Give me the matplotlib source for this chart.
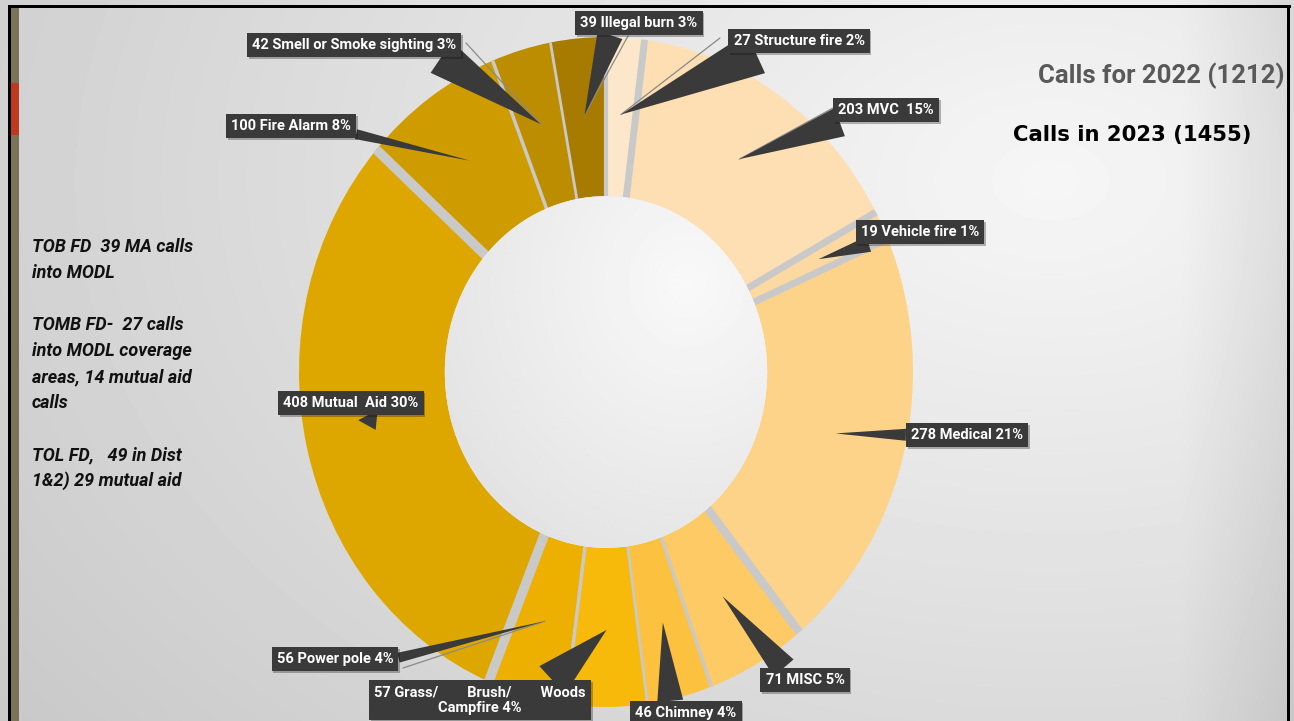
import numpy as np
import matplotlib.pyplot as plt
from matplotlib.patches import Rectangle, Circle
import matplotlib.patheffects as pe

W, H = 1294, 721

# ── data (clockwise from 12 o'clock) ───────────────────────────────
categories = ["Structure fire", "MVC ", "Vehicle fire", "Medical", "MISC", "Chimney",
              "Grass/        Brush/        Woods\nCampfire", "Power pole", "Mutual  Aid",
              "Fire Alarm", "Smell or Smoke sighting", "Illegal burn"]
calls = [27, 203, 19, 278, 71, 46, 57, 56, 408, 100, 42, 39]
pct_shown = [2, 15, 1, 21, 5, 4, 4, 4, 30, 8, 3, 3]
colors = ["#fde7cb", "#fddfb3", "#fdd9a2", "#fdd38a", "#fdca66", "#fcc13e",
          "#f7ba0a", "#edb000", "#dea700", "#cf9c00", "#bd8d00", "#a77a00"]

title_2022 = "Calls for 2022 (1212)"
title_2023 = "Calls in 2023 (1455)"
side_notes = ["TOB FD  39 MA calls", "into MODL", "",
              "TOMB FD-  27 calls", "into MODL coverage", "areas, 14 mutual aid", "calls", "",
              "TOL FD,   49 in Dist", "1&2) 29 mutual aid"]

# ── layout: label box centres (px from top-left), arrow anchor, wedge width ──
label_px = [(799, 41), (886, 110), (920, 232), (967, 435), (805, 680), (686, 713),
            (480, 700), (335, 659), (351, 403), (291, 126), (354, 45), (639, 23)]
relpos = [(0.28, 0.1), (0.2, 0.1), (0.25, 0.1), (0.05, 0.5), (0.3, 0.9), (0.35, 0.9),
          (0.8, 0.9), (0.95, 0.4), (0.6, 0.1), (0.9, 0.2), (0.88, 0.1), (0.27, 0.1)]
tail_px = [44, 30, 16, 12, 26, 26, 38, 10, 22, 10, 38, 26]
gap_lw = [3, 5, 5, 5, 6, 2.5, 2, 2.5, 7, 7, 2.5, 2]   # gap before each slice
leader_from = {0: (720, 38), 1: (833, 108), 7: (403, 668), 10: (466, 43), 11: (628, 36)}

LABEL_FONT = ["Roboto", "DejaVu Sans"]


def fpx(x, y):
    return x / W, 1 - y / H


fig = plt.figure(figsize=(W / 100, H / 100), dpi=100)

# background gradient
bg_ax = fig.add_axes([0, 0, 1, 1], zorder=-5)
yy, xx = np.mgrid[0:H, 0:W]
d = np.sqrt(((xx - 1050) / 1100.0) ** 2 + ((yy - 180) / 750.0) ** 2)
bg = 0.965 - 0.15 * d - 0.07 * np.clip((xx - 1180) / 110.0, 0, 1)
bg_ax.imshow(bg, cmap="gray", vmin=0, vmax=1, extent=[0, W, H, 0], aspect="auto")
bg_ax.set_xlim(0, W)
bg_ax.set_ylim(H, 0)
bg_ax.axis("off")

# frame decorations
for (x0, y0, x1, y1, c) in [(8, 5, 1291, 8, "black"), (8, 5, 11, H, "black"),
                            (11, 8, 19, H, "#7b7358"), (11, 83, 19, 135, "#c0391f"),
                            (1287, 5, 1290, H, "black")]:
    fig.add_artist(Rectangle(fpx(x0, y1), (x1 - x0) / W, (y1 - y0) / H,
                             transform=fig.transFigure, fc=c, ec="none", zorder=10))

# donut
ax = fig.add_axes([299 / W, (H - 372 - 335) / H, 614 / W, 670 / H])
ax.patch.set_alpha(0)
wedges, _ = ax.pie(calls, colors=colors, startangle=90, counterclock=False, radius=1,
                   wedgeprops=dict(width=0.48, edgecolor="none"))
ax.set_aspect("auto")

# grey gaps between slices
for i, w in enumerate(wedges):
    a = np.deg2rad(w.theta2)  # start edge (clockwise order)
    ax.plot([0.5 * np.cos(a), 1.0 * np.cos(a)], [0.5 * np.sin(a), 1.0 * np.sin(a)],
            color="#c9c9c9", lw=gap_lw[i], solid_capstyle="butt", zorder=2)

# centre hole with soft shading
hole = Circle((0, 0), 0.525, transform=ax.transData, fc="#f0f0f0", ec="none", zorder=3)
ax.add_patch(hole)
gy, gx = np.mgrid[-1:1:200j, -1:1:200j]
shade = 0.975 - 0.05 * np.clip(np.sqrt((gx - 0.5) ** 2 + (gy - 0.5) ** 2), 0, 2)
im = ax.imshow(shade, cmap="gray", vmin=0, vmax=1, extent=[-0.53, 0.53, -0.53, 0.53],
               origin="lower", zorder=4, aspect="auto")
im.set_clip_path(hole)
ax.set_xlim(-1, 1)
ax.set_ylim(-1, 1)
ax.axis("off")

# callouts
for i, w in enumerate(wedges):
    mid = np.deg2rad((w.theta1 + w.theta2) / 2)
    tip = (0.77 * np.cos(mid), 0.77 * np.sin(mid))
    text = f"{calls[i]} {categories[i]} {pct_shown[i]}%"
    lx, ly = label_px[i]
    if i in leader_from:
        sx, sy = leader_from[i]
        ax.annotate("", xy=tip, xytext=(sx, H - sy), textcoords="figure pixels",
                    annotation_clip=False, zorder=6,
                    arrowprops=dict(arrowstyle="-", color="#8a8a8a", lw=0.9,
                                    shrinkA=0, shrinkB=0))
    ann = ax.annotate(
        text, xy=tip, xytext=(lx, H - ly), textcoords="figure pixels",
        ha="center", va="center", ma="center", color="white", fontsize=10.5,
        fontweight="bold", family=LABEL_FONT, annotation_clip=False,
        zorder=7, linespacing=1.15,
        bbox=dict(boxstyle="square,pad=0.35", fc="#3a3a3a", ec="none"),
        arrowprops=dict(arrowstyle=f"wedge,tail_width={tail_px[i] / 13.9:.2f},shrink_factor=0.5",
                        fc="#3a3a3a", ec="none", mutation_scale=10,
                        relpos=relpos[i], shrinkA=0, shrinkB=0))
    ann.get_bbox_patch().set_path_effects([pe.SimplePatchShadow(offset=(1.2, -1.2), alpha=0.3),
                                           pe.Normal()])
    ann.arrow_patch.set_zorder(6)

# titles at right
fig.text(*fpx(1285, 76), title_2022, ha="right", va="center", fontsize=18.5,
         fontweight="bold", color="#595959", family=LABEL_FONT)
fig.text(*fpx(1013, 135), title_2023, ha="left", va="center", fontsize=15.2,
         fontweight="bold", color="black", family=["DejaVu Sans"])

# notes at left
for k, line in enumerate(side_notes):
    if line:
        fig.text(*fpx(32, 247 + 26 * k), line, ha="left", va="center", fontsize=13,
                 fontweight="bold", fontstyle="italic", color="#111111",
                 family=LABEL_FONT)

fig.savefig("out.png", dpi=100)
